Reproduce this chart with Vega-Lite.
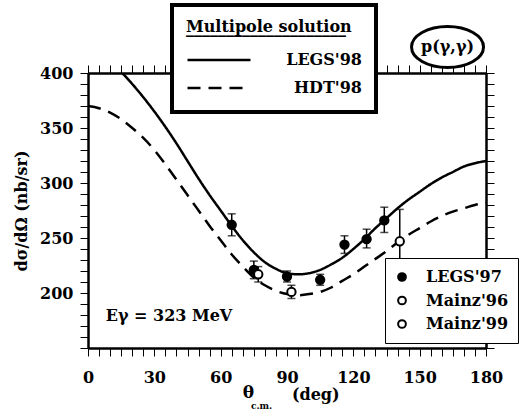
{
  "$schema": "https://vega.github.io/schema/vega-lite/v6.json",
  "width": 398,
  "height": 275,
  "autosize": {"type": "none"},
  "padding": {"left": 88, "top": 73, "right": 33, "bottom": 66},
  "background": "white",
  "config": {
    "view": {"stroke": null},
    "font": "DejaVu Serif",
    "axis": {"domainColor": "black", "tickColor": "black", "labelColor": "black", "grid": false, "labelFont": "DejaVu Serif", "labelFontWeight": "bold", "labelFontSize": 16, "titleColor": "black"},
    "legend": {"labelFont": "DejaVu Serif", "labelFontWeight": "bold", "labelFontSize": 16, "labelColor": "black", "titleFont": "DejaVu Serif", "titleFontWeight": "bold", "titleColor": "black", "fillColor": "white", "strokeColor": "black"}
  },
  "datasets": {
    "curves": [
      {"curve": "LEGS'98", "theta": 0, "val": 421}, {"curve": "LEGS'98", "theta": 5, "val": 418}, {"curve": "LEGS'98", "theta": 10, "val": 411}, {"curve": "LEGS'98", "theta": 15, "val": 401}, {"curve": "LEGS'98", "theta": 20, "val": 390}, {"curve": "LEGS'98", "theta": 25, "val": 378}, {"curve": "LEGS'98", "theta": 30, "val": 365}, {"curve": "LEGS'98", "theta": 35, "val": 351}, {"curve": "LEGS'98", "theta": 40, "val": 336}, {"curve": "LEGS'98", "theta": 45, "val": 320}, {"curve": "LEGS'98", "theta": 50, "val": 304}, {"curve": "LEGS'98", "theta": 55, "val": 289}, {"curve": "LEGS'98", "theta": 60, "val": 275}, {"curve": "LEGS'98", "theta": 65, "val": 261}, {"curve": "LEGS'98", "theta": 70, "val": 248}, {"curve": "LEGS'98", "theta": 75, "val": 237}, {"curve": "LEGS'98", "theta": 80, "val": 228}, {"curve": "LEGS'98", "theta": 85, "val": 222}, {"curve": "LEGS'98", "theta": 90, "val": 218}, {"curve": "LEGS'98", "theta": 95, "val": 217}, {"curve": "LEGS'98", "theta": 100, "val": 218}, {"curve": "LEGS'98", "theta": 105, "val": 221}, {"curve": "LEGS'98", "theta": 110, "val": 226}, {"curve": "LEGS'98", "theta": 115, "val": 232}, {"curve": "LEGS'98", "theta": 120, "val": 240}, {"curve": "LEGS'98", "theta": 125, "val": 249}, {"curve": "LEGS'98", "theta": 130, "val": 259}, {"curve": "LEGS'98", "theta": 135, "val": 268}, {"curve": "LEGS'98", "theta": 140, "val": 277}, {"curve": "LEGS'98", "theta": 145, "val": 285}, {"curve": "LEGS'98", "theta": 150, "val": 292}, {"curve": "LEGS'98", "theta": 155, "val": 299}, {"curve": "LEGS'98", "theta": 160, "val": 305}, {"curve": "LEGS'98", "theta": 165, "val": 310}, {"curve": "LEGS'98", "theta": 170, "val": 315}, {"curve": "LEGS'98", "theta": 175, "val": 318}, {"curve": "LEGS'98", "theta": 180, "val": 320},
      {"curve": "HDT'98", "theta": 0, "val": 370}, {"curve": "HDT'98", "theta": 5, "val": 368}, {"curve": "HDT'98", "theta": 10, "val": 364}, {"curve": "HDT'98", "theta": 15, "val": 358}, {"curve": "HDT'98", "theta": 20, "val": 350}, {"curve": "HDT'98", "theta": 25, "val": 341}, {"curve": "HDT'98", "theta": 30, "val": 330}, {"curve": "HDT'98", "theta": 35, "val": 317}, {"curve": "HDT'98", "theta": 40, "val": 303}, {"curve": "HDT'98", "theta": 45, "val": 289}, {"curve": "HDT'98", "theta": 50, "val": 275}, {"curve": "HDT'98", "theta": 55, "val": 261}, {"curve": "HDT'98", "theta": 60, "val": 248}, {"curve": "HDT'98", "theta": 65, "val": 235}, {"curve": "HDT'98", "theta": 70, "val": 224}, {"curve": "HDT'98", "theta": 75, "val": 214}, {"curve": "HDT'98", "theta": 80, "val": 207}, {"curve": "HDT'98", "theta": 85, "val": 202}, {"curve": "HDT'98", "theta": 90, "val": 199}, {"curve": "HDT'98", "theta": 95, "val": 198}, {"curve": "HDT'98", "theta": 100, "val": 199}, {"curve": "HDT'98", "theta": 105, "val": 201}, {"curve": "HDT'98", "theta": 110, "val": 205}, {"curve": "HDT'98", "theta": 115, "val": 211}, {"curve": "HDT'98", "theta": 120, "val": 217}, {"curve": "HDT'98", "theta": 125, "val": 224}, {"curve": "HDT'98", "theta": 130, "val": 231}, {"curve": "HDT'98", "theta": 135, "val": 238}, {"curve": "HDT'98", "theta": 140, "val": 246}, {"curve": "HDT'98", "theta": 145, "val": 253}, {"curve": "HDT'98", "theta": 150, "val": 259}, {"curve": "HDT'98", "theta": 155, "val": 265}, {"curve": "HDT'98", "theta": 160, "val": 270}, {"curve": "HDT'98", "theta": 165, "val": 274}, {"curve": "HDT'98", "theta": 170, "val": 277}, {"curve": "HDT'98", "theta": 175, "val": 280}, {"curve": "HDT'98", "theta": 180, "val": 282}
    ],
    "points": [
      {"set": "LEGS'97", "theta": 65, "val": 262, "lo": 252, "hi": 272},
      {"set": "LEGS'97", "theta": 75, "val": 221, "lo": 213, "hi": 229},
      {"set": "LEGS'97", "theta": 90, "val": 215, "lo": 210, "hi": 220},
      {"set": "LEGS'97", "theta": 105, "val": 212, "lo": 207, "hi": 217},
      {"set": "LEGS'97", "theta": 116, "val": 244, "lo": 236, "hi": 252},
      {"set": "LEGS'97", "theta": 126, "val": 249, "lo": 241, "hi": 258},
      {"set": "LEGS'97", "theta": 134, "val": 266, "lo": 255, "hi": 278},
      {"set": "Mainz'96", "theta": 77, "val": 217, "lo": 210, "hi": 224},
      {"set": "Mainz'99", "theta": 92, "val": 201, "lo": 195, "hi": 207},
      {"set": "Mainz'99", "theta": 141, "val": 247, "lo": 219, "hi": 276}
    ]
  },
  "resolve": {"axis": {"x": "independent", "y": "independent"}},
  "layer": [
    {
      "data": {"name": "curves"},
      "mark": {"type": "line", "color": "black", "strokeWidth": 2.5, "interpolate": "monotone", "clip": true},
      "encoding": {
        "x": {"field": "theta", "type": "quantitative", "scale": {"domain": [0, 180], "nice": false, "zero": false},
          "axis": {"orient": "bottom", "values": [0, 5, 10, 15, 20, 25, 30, 35, 40, 45, 50, 55, 60, 65, 70, 75, 80, 85, 90, 95, 100, 105, 110, 115, 120, 125, 130, 135, 140, 145, 150, 155, 160, 165, 170, 175, 180],
            "labelExpr": "datum.value % 30 == 0 ? datum.label : ''", "tickSize": 8, "domainWidth": 2.5, "labelPadding": 13, "labelFlush": false, "labelOverlap": false, "title": null,
            "encode": {"ticks": {"update": {"y": {"signal": "datum.value % 30 == 0 ? -8 : -4"}, "y2": {"signal": "datum.value % 30 == 0 ? 8 : 0"}, "strokeWidth": {"signal": "datum.value % 30 == 0 ? 2 : 1.5"}}}}}},
        "y": {"field": "val", "type": "quantitative", "scale": {"domain": [150, 400], "nice": false, "zero": false},
          "axis": {"orient": "left", "values": [150, 160, 170, 180, 190, 200, 210, 220, 230, 240, 250, 260, 270, 280, 290, 300, 310, 320, 330, 340, 350, 360, 370, 380, 390, 400],
            "labelExpr": "datum.value % 50 == 0 && datum.value > 150 ? datum.label : ''", "tickSize": 8, "domainWidth": 2.5, "labelPadding": 7, "labelFlush": false, "labelOverlap": false,
            "encode": {"ticks": {"update": {"x": {"signal": "datum.value % 50 == 0 ? -8 : 0"}, "x2": {"signal": "datum.value % 50 == 0 ? 8 : 4"}, "strokeWidth": {"signal": "datum.value % 50 == 0 ? 2 : 1.5"}}}},
            "title": "d\u03c3/d\u03a9     (nb/sr)", "titleFont": "DejaVu Serif", "titleFontWeight": "bold", "titleFontSize": 16, "titlePadding": 10}},
        "strokeDash": {"field": "curve", "type": "nominal",
          "scale": {"domain": ["LEGS'98", "HDT'98"], "range": [[1, 0], [13, 8]]},
          "legend": {"orient": "none", "legendX": 84, "legendY": -68, "title": ["Multipole solution", "____________________"],
            "titleFontSize": 16, "titleLineHeight": 1, "titlePadding": 14, "symbolType": "stroke", "symbolSize": 3969, "symbolStrokeWidth": 2.5, "symbolStrokeColor": "black",
            "clipHeight": 20, "labelAlign": "right", "labelOffset": 110, "rowPadding": 8, "padding": 14,
            "encode": {"legend": {"update": {"strokeWidth": {"value": 4}}}}}}
      }
    },
    {
      "data": {"name": "points"},
      "mark": {"type": "rule", "color": "black", "strokeWidth": 1.5},
      "encoding": {
        "x": {"field": "theta", "type": "quantitative",
          "axis": {"orient": "top", "values": [0, 5, 10, 15, 20, 25, 30, 35, 40, 45, 50, 55, 60, 65, 70, 75, 80, 85, 90, 95, 100, 105, 110, 115, 120, 125, 130, 135, 140, 145, 150, 155, 160, 165, 170, 175, 180],
            "labels": false, "tickSize": 8, "domainWidth": 2.5, "title": null,
            "encode": {"ticks": {"update": {"y": {"signal": "datum.value % 30 == 0 ? -8 : 0"}, "y2": {"signal": "datum.value % 30 == 0 ? 8 : 4"}, "strokeWidth": {"signal": "datum.value % 30 == 0 ? 2 : 1.5"}}}}}},
        "y": {"field": "lo", "type": "quantitative",
          "axis": {"orient": "right", "values": [150, 160, 170, 180, 190, 200, 210, 220, 230, 240, 250, 260, 270, 280, 290, 300, 310, 320, 330, 340, 350, 360, 370, 380, 390, 400],
            "labels": false, "tickSize": 8, "domainWidth": 2.5, "title": null,
            "encode": {"ticks": {"update": {"x": {"signal": "datum.value % 50 == 0 ? -8 : -4"}, "x2": {"signal": "datum.value % 50 == 0 ? 8 : 0"}, "strokeWidth": {"signal": "datum.value % 50 == 0 ? 2 : 1.5"}}}}}},
        "y2": {"field": "hi"}
      }
    },
    {
      "data": {"name": "points"},
      "mark": {"type": "tick", "orient": "horizontal", "color": "black", "size": 8, "thickness": 1.5},
      "encoding": {
        "x": {"field": "theta", "type": "quantitative", "axis": null},
        "y": {"field": "lo", "type": "quantitative", "axis": null}
      }
    },
    {
      "data": {"name": "points"},
      "mark": {"type": "tick", "orient": "horizontal", "color": "black", "size": 8, "thickness": 1.5},
      "encoding": {
        "x": {"field": "theta", "type": "quantitative", "axis": null},
        "y": {"field": "hi", "type": "quantitative", "axis": null}
      }
    },
    {
      "data": {"name": "points"},
      "mark": {"type": "point", "shape": "circle", "filled": true, "size": 70, "stroke": "black", "strokeWidth": 2, "opacity": 1},
      "encoding": {
        "x": {"field": "theta", "type": "quantitative", "axis": null},
        "y": {"field": "val", "type": "quantitative", "axis": null},
        "fill": {"field": "set", "type": "nominal",
          "scale": {"domain": ["LEGS'97", "Mainz'96", "Mainz'99"], "range": ["black", "white", "white"]},
          "legend": {"orient": "none", "legendX": 297, "legendY": 185, "title": null, "symbolType": "circle", "symbolSize": 60, "symbolStrokeWidth": 2, "symbolStrokeColor": "black",
            "clipHeight": 20, "labelOffset": 16, "rowPadding": 3.5, "padding": 9,
            "encode": {"legend": {"update": {"strokeWidth": {"value": 3}}}}}}
      }
    },
    {
      "data": {"values": [{}]},
      "mark": {"type": "point", "shape": "M -1,0 A 1,0.57 0 1,1 1,0 A 1,0.57 0 1,1 -1,0 Z", "size": 5184, "stroke": "black", "strokeWidth": 3, "fill": "white", "filled": false, "opacity": 1, "clip": false},
      "encoding": {
        "x": {"datum": 162.6, "type": "quantitative", "axis": null},
        "y": {"datum": 423.6, "type": "quantitative", "axis": null}
      }
    },
    {
      "data": {"values": [{}]},
      "mark": {"type": "text", "text": "p(\u03b3,\u03b3)", "font": "DejaVu Serif", "fontWeight": "bold", "fontSize": 16, "color": "black", "align": "center", "baseline": "middle", "clip": false},
      "encoding": {"x": {"datum": 162.6, "type": "quantitative", "axis": null}, "y": {"datum": 423.6, "type": "quantitative", "axis": null}}
    },
    {
      "data": {"values": [{}]},
      "mark": {"type": "text", "text": "E\u03b3 = 323 MeV", "font": "DejaVu Serif", "fontWeight": "bold", "fontSize": 16, "color": "black", "align": "left", "baseline": "middle", "clip": false},
      "encoding": {"x": {"datum": 8.0, "type": "quantitative", "axis": null}, "y": {"datum": 179, "type": "quantitative", "axis": null}}
    },
    {
      "data": {"values": [{}]},
      "mark": {"type": "text", "text": "\u03b8", "font": "DejaVu Serif", "fontWeight": "bold", "fontSize": 17, "color": "black", "align": "center", "baseline": "middle", "clip": false},
      "encoding": {"x": {"datum": 72.5, "type": "quantitative", "axis": null}, "y": {"datum": 109, "type": "quantitative", "axis": null}}
    },
    {
      "data": {"values": [{}]},
      "mark": {"type": "text", "text": "c.m.", "font": "DejaVu Serif", "fontWeight": "bold", "fontSize": 9, "color": "black", "align": "center", "baseline": "middle", "clip": false},
      "encoding": {"x": {"datum": 78.5, "type": "quantitative", "axis": null}, "y": {"datum": 97, "type": "quantitative", "axis": null}}
    },
    {
      "data": {"values": [{}]},
      "mark": {"type": "text", "text": "(deg)", "font": "DejaVu Serif", "fontWeight": "bold", "fontSize": 16, "color": "black", "align": "center", "baseline": "middle", "clip": false},
      "encoding": {"x": {"datum": 103, "type": "quantitative", "axis": null}, "y": {"datum": 107, "type": "quantitative", "axis": null}}
    }
  ]
}
